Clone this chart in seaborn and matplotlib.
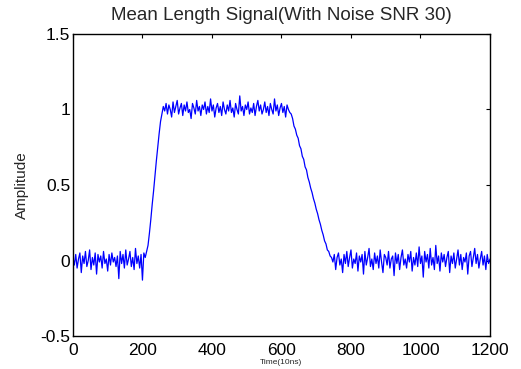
import numpy as np
import pandas as pd
import matplotlib
matplotlib.use('Agg')
import matplotlib.pyplot as plt
import seaborn as sns

baseline_start = [
    0.02, -0.03, 0.04, -0.05, 0.01, 0.05, -0.08, 0.03, -0.02, 0.06,
    -0.04, 0.00, 0.07, -0.06, 0.02, -0.03, 0.05, -0.09, 0.04, -0.01,
    0.03, -0.05, 0.06, -0.02, 0.01, -0.07, 0.04, -0.03, 0.05, -0.01,
    0.02, -0.04, 0.03, -0.12, 0.06, -0.02, 0.04, -0.05, 0.07, -0.03,
    0.01, 0.06, -0.04, 0.02, -0.06, 0.08, -0.02, 0.03, -0.05, 0.04,
    -0.13, 0.05, 0.02,
]
rise = [0.06, 0.10, 0.18, 0.27, 0.37, 0.46, 0.56, 0.66, 0.75, 0.84, 0.92, 0.97, 1.02]
plateau = [
    0.99, 1.04, 0.97, 1.03, 1.00, 0.95, 1.05, 0.98, 1.02, 1.06,
    0.97, 1.01, 1.04, 0.96, 1.03, 0.99, 1.05, 0.98, 1.00, 0.94,
    1.04, 1.01, 0.97, 1.06, 0.99, 1.02, 0.96, 1.03, 1.00, 1.05,
    0.97, 1.02, 0.98, 1.07, 0.99, 1.03, 0.95, 1.01, 1.04, 0.98,
    1.02, 0.96, 1.05, 1.00, 0.97, 1.03, 0.99, 1.06, 0.98, 1.01,
    0.95, 1.04, 1.00, 0.97, 1.09, 0.99, 1.02, 0.96, 1.03, 1.00,
    1.05, 0.97, 1.01, 0.98, 1.04, 0.96, 1.02, 1.06, 0.99, 1.03,
    0.97, 1.00, 1.05, 0.98, 1.02, 0.96, 1.04, 1.00, 0.97, 1.07,
    0.99, 1.03, 0.96, 1.01, 1.04, 0.98, 1.02, 0.95, 1.03, 1.00,
    0.98,
]
fall = [
    0.97, 0.94, 0.89, 0.87, 0.83, 0.81, 0.76, 0.74, 0.69, 0.67,
    0.62, 0.60, 0.55, 0.52, 0.48, 0.45, 0.41, 0.38, 0.34, 0.31,
    0.27, 0.24, 0.20, 0.17, 0.13, 0.11, 0.07, 0.06, 0.03, 0.02,
]
baseline_end = [
    -0.01, 0.04, -0.06, 0.02, 0.05, -0.03, 0.01, -0.08, 0.04, -0.02,
    0.06, -0.04, 0.02, 0.07, -0.05, 0.01, -0.02, 0.05, -0.07, 0.03,
    -0.01, 0.04, -0.09, 0.06, -0.03, 0.02, 0.08, -0.04, 0.01, -0.06,
    0.05, -0.02, 0.03, -0.05, 0.07, -0.01, -0.08, 0.04, 0.02, -0.03,
    0.06, -0.05, 0.01, 0.03, -0.10, 0.05, -0.02, 0.04, -0.06, 0.02,
    0.07, -0.03, 0.01, -0.05, 0.04, -0.01, 0.06, -0.07, 0.02, -0.03,
    0.05, -0.04, 0.09, -0.02, 0.03, -0.11, 0.06, -0.01, 0.04, -0.05,
    0.08, -0.03, 0.02, -0.06, 0.10, -0.02, 0.03, -0.07, 0.05, -0.01,
    0.04, -0.04, 0.02, 0.06, -0.08, 0.03, -0.02, 0.05, -0.05, 0.01,
    0.07, -0.03, 0.04, -0.06, 0.02, -0.01, 0.05, -0.09, 0.03, 0.06,
    -0.04, 0.02, 0.08, -0.02, 0.04, -0.05, 0.01, 0.06, -0.03, 0.03,
    -0.06, 0.04, -0.02, 0.01,
]
amplitude = baseline_start + rise + plateau + fall + baseline_end
time = np.arange(0, 1201, 4)

x_ticks = [0, 200, 400, 600, 800, 1000, 1200]
y_ticks = [-0.5, 0, 0.5, 1, 1.5]
y_tick_labels = ['-0.5', '0', '0.5', '1', '1.5']

signal_df = pd.DataFrame({'time': time, 'amplitude': amplitude})

# --- plot ---
sns.set_style('white')
plt.rcParams['font.family'] = ['Liberation Sans', 'DejaVu Sans']

fig = plt.figure(figsize=(5.21, 3.69), dpi=100)
ax = fig.add_axes([0.140, 0.0894, 0.8005, 0.8185])

sns.lineplot(data=signal_df, x='time', y='amplitude', color='blue',
             linewidth=0.9, estimator=None, ax=ax)

ax.set_xlim(0, 1200)
ax.set_ylim(-0.5, 1.5)
ax.set_xticks(x_ticks)
ax.set_yticks(y_ticks)
ax.set_yticklabels(y_tick_labels)
ax.tick_params(direction='in', length=3, width=0.8, colors='black',
               labelsize=12.5, top=True, right=True, pad=2)
ax.tick_params(axis='x', pad=5)
for s in ax.spines.values():
    s.set_color('black')
    s.set_linewidth(1)

ax.set_title('Mean Length Signal(With Noise SNR 30)', fontsize=13.5, pad=10)
ax.set_xlabel('Time(10ns)', fontsize=6, labelpad=0.5)
ax.set_ylabel('Amplitude', fontsize=11, labelpad=8)

plt.savefig('out.png', dpi=100)
